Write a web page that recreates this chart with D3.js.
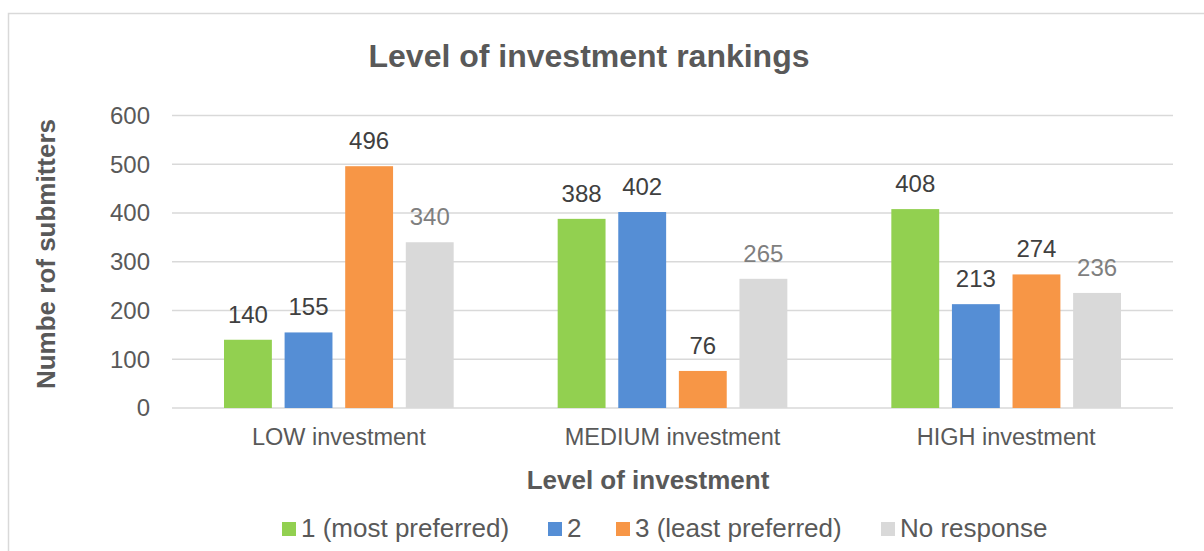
<!DOCTYPE html>
<html>
<head>
<meta charset="utf-8">
<script src="https://cdn.jsdelivr.net/npm/d3@7"></script>
<style>
  body { margin: 0; background: #fff; }
  svg { display: block; font-family: "Liberation Sans", Arial, sans-serif; }
</style>
</head>
<body>
<svg id="chart" width="1204" height="551"></svg>
<script>
const categories = ["LOW investment", "MEDIUM investment", "HIGH investment"];
const seriesNames = ["1 (most preferred)", "2", "3 (least preferred)", "No response"];
const mostPreferred = [140, 388, 408];
const second = [155, 402, 213];
const leastPreferred = [496, 76, 274];
const noResponse = [340, 265, 236];
const yTicks = [0, 100, 200, 300, 400, 500, 600];

const colors = ["#92D050", "#558ED5", "#F79646", "#D9D9D9"];
const labelColors = ["#404040", "#404040", "#404040", "#7f7f7f"];
const seriesValues = [mostPreferred, second, leastPreferred, noResponse];

const data = categories.map((c, i) => ({
  cat: c,
  values: seriesNames.map((s, j) => ({ key: s, idx: j, value: seriesValues[j][i] }))
}));

const svg = d3.select("#chart");

// outer frame
svg.append("rect")
  .attr("x", 8.5).attr("y", 13.5)
  .attr("width", 1210).attr("height", 560)
  .attr("fill", "#fff").attr("stroke", "#d9d9d9").attr("stroke-width", 1.5);

const plotLeft = 172, plotRight = 1173, plotTop = 115.5, plotBottom = 408;

const x0 = d3.scaleBand().domain(categories).range([plotLeft, plotRight]).padding(0);
const x1 = d3.scaleBand().domain(seriesNames)
  .range([52, x0.bandwidth() - 52]).paddingInner(0.21).paddingOuter(0);
const y = d3.scaleLinear().domain([0, 600]).range([plotBottom, plotTop]);

// gridlines
svg.append("g")
  .selectAll("line")
  .data(yTicks)
  .enter().append("line")
  .attr("x1", plotLeft).attr("x2", plotRight)
  .attr("y1", d => y(d)).attr("y2", d => y(d))
  .attr("stroke", "#d9d9d9").attr("stroke-width", 1.5);

// y tick labels
svg.append("g")
  .selectAll("text")
  .data(yTicks)
  .enter().append("text")
  .attr("x", 150).attr("y", d => y(d))
  .attr("dy", "0.35em")
  .attr("text-anchor", "end")
  .attr("font-size", 24)
  .attr("fill", "#595959")
  .text(d => d);

// bars
const groups = svg.append("g")
  .selectAll("g")
  .data(data)
  .enter().append("g")
  .attr("transform", d => `translate(${x0(d.cat)},0)`);

groups.selectAll("rect")
  .data(d => d.values)
  .enter().append("rect")
  .attr("x", d => x1(d.key))
  .attr("y", d => y(d.value))
  .attr("width", x1.bandwidth())
  .attr("height", d => y(0) - y(d.value))
  .attr("fill", d => colors[d.idx]);

groups.selectAll("text")
  .data(d => d.values)
  .enter().append("text")
  .attr("x", d => x1(d.key) + x1.bandwidth() / 2)
  .attr("y", d => y(d.value) - 17)
  .attr("text-anchor", "middle")
  .attr("font-size", 24)
  .attr("fill", d => labelColors[d.idx])
  .text(d => d.value);

// category labels
svg.append("g")
  .selectAll("text")
  .data(categories)
  .enter().append("text")
  .attr("x", d => x0(d) + x0.bandwidth() / 2)
  .attr("y", 445)
  .attr("text-anchor", "middle")
  .attr("font-size", 23.5)
  .attr("fill", "#595959")
  .text(d => d);

// title
svg.append("text")
  .attr("x", 589).attr("y", 67)
  .attr("text-anchor", "middle")
  .attr("font-size", 32).attr("font-weight", "bold")
  .attr("fill", "#595959")
  .text("Level of investment rankings");

// axis titles
svg.append("text")
  .attr("x", 648).attr("y", 489)
  .attr("text-anchor", "middle")
  .attr("font-size", 26).attr("font-weight", "bold")
  .attr("fill", "#595959")
  .text("Level of investment");

svg.append("text")
  .attr("transform", "translate(55,254) rotate(-90)")
  .attr("text-anchor", "middle")
  .attr("font-size", 26).attr("font-weight", "bold")
  .attr("fill", "#595959")
  .text("Numbe rof submitters");

// legend
const legendX = [282, 548, 616, 881];
const legend = svg.append("g")
  .selectAll("g")
  .data(seriesNames)
  .enter().append("g")
  .attr("transform", (d, i) => `translate(${legendX[i]},522)`);

legend.append("rect")
  .attr("width", 14).attr("height", 14)
  .attr("fill", (d, i) => colors[i]);

legend.append("text")
  .attr("x", 19).attr("y", 15)
  .attr("font-size", 26)
  .attr("fill", "#595959")
  .text(d => d);
</script>
</body>
</html>
